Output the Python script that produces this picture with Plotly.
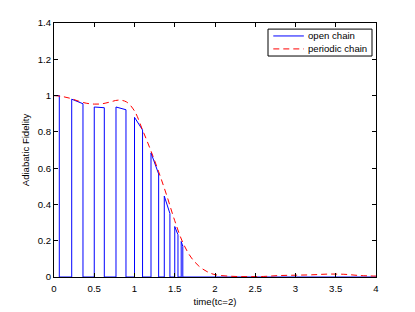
import plotly.graph_objects as go

# Open chain: step-like fidelity (drops to zero between segments)
open_t = [0, 0.066, 0.066, 0.22, 0.22, 0.36, 0.36, 0.50, 0.50, 0.625, 0.625, 0.77, 0.77, 0.894, 0.894,
          1.0, 1.0, 1.10, 1.10, 1.205, 1.205, 1.30, 1.30, 1.37, 1.37, 1.44, 1.44, 1.50, 1.50, 1.54, 1.54,
          1.58, 1.58, 1.60, 1.60, 4.0]
open_f = [1.0, 1.0, 0, 0, 0.98, 0.955, 0, 0, 0.937, 0.933, 0, 0, 0.937, 0.922, 0,
          0, 0.88, 0.81, 0, 0, 0.684, 0.568, 0, 0, 0.446, 0.35, 0, 0, 0.278, 0.233, 0,
          0, 0.196, 0.169, 0, 0]

# Periodic chain: smooth curve
per_t = [0, 0.1, 0.2, 0.3, 0.4, 0.5, 0.6, 0.7, 0.8, 0.9, 1.0, 1.1, 1.2, 1.3, 1.4, 1.5, 1.6, 1.7, 1.8,
         1.9, 2.0, 2.2, 2.4, 2.6, 2.8, 3.0, 3.2, 3.4, 3.6, 3.8, 4.0]
per_f = [1.0, 0.995, 0.985, 0.97, 0.958, 0.953, 0.955, 0.965, 0.975, 0.965, 0.915, 0.81, 0.70, 0.58,
         0.45, 0.31, 0.19, 0.11, 0.06, 0.03, 0.013, 0.004, 0.002, 0.003, 0.008, 0.01, 0.012, 0.016,
         0.015, 0.008, 0.005]

series_names = ["open chain", "periodic chain"]
series_colors = ["#0000ff", "#ff0000"]
series_dash = ["solid", "6px,4px"]

x_ticks = [0, 0.5, 1, 1.5, 2, 2.5, 3, 3.5, 4]
x_tick_labels = ["0", "0.5", "1", "1.5", "2", "2.5", "3", "3.5", "4"]
y_ticks = [0, 0.2, 0.4, 0.6, 0.8, 1.0, 1.2, 1.4]
y_tick_labels = ["0", "0.2", "0.4", "0.6", "0.8", "1", "1.2", "1.4"]

font = "Liberation Sans, Arial, Helvetica, sans-serif"
fs = 9.6

fig = go.Figure()
fig.add_trace(go.Scatter(x=open_t, y=open_f, mode="lines", name=series_names[0],
                         line=dict(color=series_colors[0], width=1, dash=series_dash[0])))
fig.add_trace(go.Scatter(x=per_t, y=per_f, mode="lines", name=series_names[1],
                         line=dict(color=series_colors[1], width=1, dash=series_dash[1],
                                   shape="spline")))

axis_common = dict(showline=True, linecolor="black", linewidth=1, mirror="ticks",
                   ticks="inside", ticklen=4, tickcolor="black", showgrid=False, zeroline=False,
                   automargin=False,
                   tickfont=dict(family=font, size=fs, color="black"))

# Manual MATLAB-style legend box (compact rows)
leg_x0, leg_x1, leg_y0, leg_y1 = 0.6646, 0.9876, 0.870, 0.976
row_y = [0.949, 0.898]
samp_x0, samp_x1, text_x = 0.681, 0.776, 0.784

shapes = [dict(type="rect", xref="paper", yref="paper", x0=leg_x0, x1=leg_x1, y0=leg_y0, y1=leg_y1,
               line=dict(color="black", width=1), fillcolor="white", layer="above")]
annotations = []
for name, col, dsh, ry in zip(series_names, series_colors, series_dash, row_y):
    shapes.append(dict(type="line", xref="paper", yref="paper", x0=samp_x0, x1=samp_x1, y0=ry, y1=ry,
                       line=dict(color=col, width=1, dash=dsh), layer="above"))
    annotations.append(dict(xref="paper", yref="paper", x=text_x, y=ry, text=name, showarrow=False,
                            xanchor="left", yanchor="middle",
                            font=dict(family=font, size=fs, color="black")))

fig.update_layout(
    width=407, height=304,
    margin=dict(l=46, r=39, t=15, b=35),
    paper_bgcolor="white", plot_bgcolor="white",
    font=dict(family=font, size=fs, color="black"),
    xaxis=dict(range=[0, 4], tickvals=x_ticks, ticktext=x_tick_labels, ticklabelstandoff=2,
               title=dict(text="time(tc=2)", standoff=5, font=dict(size=fs)), **axis_common),
    yaxis=dict(range=[0, 1.4], tickvals=y_ticks, ticktext=y_tick_labels,
               title=dict(text="Adiabatic Fidelity", standoff=6, font=dict(size=fs)), **axis_common),
    shapes=shapes,
    annotations=annotations,
    showlegend=False,
)

fig.write_html("out.html")
